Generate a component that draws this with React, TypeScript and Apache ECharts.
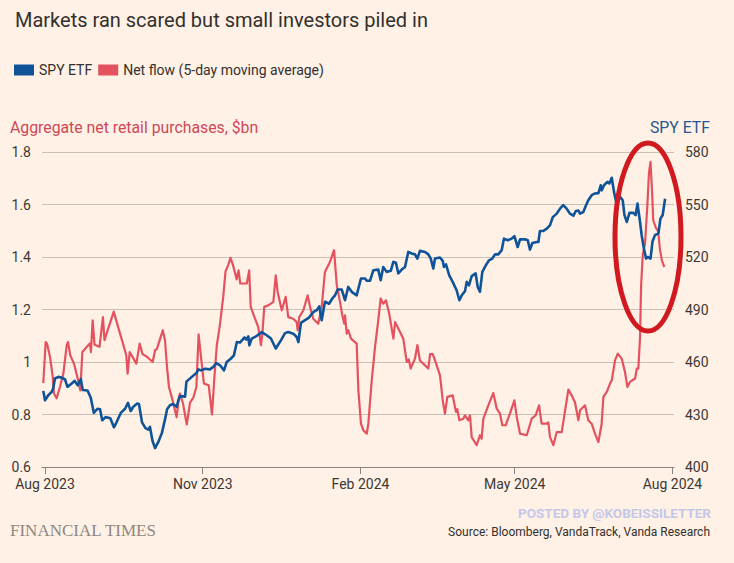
import React, { useEffect, useRef } from "react";
import * as echarts from "echarts";

const DAY = 86400000;
const START = Date.UTC(2023, 7, 1); // day 0 = 1 Aug 2023

const xTickDates = ["2023-08-01", "2023-11-01", "2024-02-01", "2024-05-01", "2024-08-01"];
const xTickLabels = ["Aug 2023", "Nov 2023", "Feb 2024", "May 2024", "Aug 2024"];
const flowTicks = [0.6, 0.8, 1, 1.2, 1.4, 1.6, 1.8];
const spyTicks = [400, 430, 460, 490, 520, 550, 580];

// [days since 1 Aug 2023, aggregate net retail purchases $bn (5-day MA)]
const netFlow: [number, number][] = [
  [-1.0, 0.92], [0.4, 1.076], [1.2, 1.07], [2.9, 1.02], [4.5, 0.945], [5.2, 0.88], [6.8, 0.862], [7.8, 0.885],
  [8.7, 0.905], [10.7, 0.956], [12.7, 1.065], [13.4, 1.076], [14.8, 1.025], [16.9, 0.994], [18.8, 0.945],
  [20.6, 0.892], [21.8, 1.038], [24.3, 1.057], [26.2, 1.071], [26.8, 1.038], [27.8, 1.159], [28.9, 1.066],
  [31.8, 1.058], [33.8, 1.171], [34.7, 1.083], [37.0, 1.13], [40.1, 1.192], [42.8, 1.13], [45.5, 1.07],
  [47.4, 1.026], [48.2, 0.956], [49.4, 1.038], [53.3, 0.994], [55.2, 1.07], [56.9, 1.03], [59.5, 1.02],
  [62.8, 1.0], [64.2, 1.044], [65.3, 1.05], [68.7, 1.121], [70.0, 1.083], [71.2, 0.98], [72.3, 0.905],
  [73.9, 0.867], [76.8, 0.79], [77.9, 0.854], [78.7, 0.88], [80.5, 0.842], [82.7, 0.762], [84.6, 0.845],
  [86.5, 0.864], [88.3, 0.905], [89.6, 1.105], [90.9, 1.025], [92.7, 0.918], [95.5, 0.911], [97.4, 0.8],
  [98.9, 0.95], [100.2, 1.062], [102.1, 1.145], [104.0, 1.25], [105.3, 1.345], [106.9, 1.37], [108.2, 1.397],
  [109.7, 1.368], [111.8, 1.315], [112.9, 1.349], [113.9, 1.299], [117.7, 1.299], [119.1, 1.349], [120.0, 1.21],
  [122.5, 1.165], [124.4, 1.133], [126.0, 1.064], [126.8, 1.108], [127.9, 1.21], [130.3, 1.216], [133.2, 1.229],
  [134.6, 1.33], [135.7, 1.267], [138.1, 1.197], [140.4, 1.248], [141.9, 1.171], [144.8, 1.165], [146.8, 1.152],
  [147.4, 1.121], [148.3, 1.171], [150.7, 1.197], [153.2, 1.254], [154.6, 1.21], [156.5, 1.165], [159.4, 1.146],
  [161.4, 1.21], [163.3, 1.343], [166.2, 1.381], [168.6, 1.426], [170.2, 1.292], [172.1, 1.229], [173.4, 1.178],
  [174.6, 1.146], [175.0, 1.178], [176.0, 1.108], [176.9, 1.121], [178.5, 1.089], [181.8, 1.07], [182.8, 0.892],
  [184.3, 0.765], [185.7, 0.74], [187.7, 0.727], [188.6, 0.765], [190.6, 0.93], [192.5, 1.057], [194.4, 1.159],
  [195.8, 1.242], [197.3, 1.222], [198.9, 1.235], [200.8, 1.184], [203.2, 1.089], [204.2, 1.152], [207.1, 1.114],
  [209.0, 1.089], [211.0, 1.0], [212.2, 1.01], [213.3, 0.975], [215.8, 1.013], [217.2, 1.064], [218.7, 1.006],
  [221.7, 0.987], [223.6, 0.975], [224.6, 1.03], [226.2, 1.03], [227.5, 1.006], [230.4, 0.949], [232.0, 0.854],
  [233.3, 0.803], [234.7, 0.867], [237.8, 0.873], [239.7, 0.81], [240.5, 0.82], [241.7, 0.778], [244.0, 0.784],
  [245.0, 0.797], [246.9, 0.778], [247.9, 0.797], [248.9, 0.714], [251.8, 0.683], [253.7, 0.721], [254.7, 0.708],
  [255.7, 0.784], [258.6, 0.835], [261.5, 0.882], [263.5, 0.822], [265.4, 0.803], [266.8, 0.759], [268.7, 0.759],
  [271.2, 0.803], [273.8, 0.854], [275.2, 0.79], [277.1, 0.727], [281.0, 0.721], [283.9, 0.784], [286.2, 0.797],
  [288.2, 0.835], [289.7, 0.765], [292.7, 0.765], [293.6, 0.77], [294.6, 0.714], [296.5, 0.683], [298.5, 0.733],
  [301.4, 0.733], [305.3, 0.895], [307.2, 0.873], [309.2, 0.845], [311.1, 0.778], [312.1, 0.816], [315.0, 0.835],
  [316.9, 0.778], [318.9, 0.765], [320.8, 0.727], [322.8, 0.695], [324.7, 0.765], [325.7, 0.867], [327.7, 0.886],
  [329.6, 0.918], [330.6, 0.93], [332.5, 1.006], [334.1, 1.032], [336.4, 1.013], [338.3, 0.962], [339.7, 0.905],
  [341.2, 0.924], [344.2, 0.937], [345.2, 0.975], [346.1, 0.975], [347.1, 1.095], [347.7, 1.29], [348.7, 1.41],
  [350.0, 1.45], [351.3, 1.59], [352.3, 1.72], [353.2, 1.762], [354.1, 1.65], [354.8, 1.54], [356.4, 1.51],
  [357.6, 1.5], [358.7, 1.43], [359.9, 1.385], [361.3, 1.362],
];

// [days since 1 Aug 2023, SPY ETF price]
const spy: [number, number][] = [
  [-1.0, 443.5], [0.0, 438.1], [1.9, 441.0], [3.9, 442.9], [4.8, 445.0], [5.8, 450.6], [7.8, 451.5], [9.9, 451.0],
  [11.7, 450.0], [13.1, 445.8], [15.6, 447.7], [17.2, 449.2], [19.1, 446.7], [20.9, 450.3], [22.0, 444.0],
  [24.8, 443.7], [26.7, 439.6], [28.5, 430.9], [30.6, 433.3], [32.1, 433.0], [33.4, 426.7], [35.3, 428.5],
  [38.1, 427.9], [40.2, 422.7], [41.8, 425.7], [44.2, 430.9], [46.7, 433.3], [48.4, 436.6], [50.0, 432.0],
  [51.5, 434.4], [53.8, 436.3], [54.8, 436.0], [56.6, 425.5], [58.6, 422.2], [60.3, 421.3], [61.2, 423.0],
  [62.7, 415.0], [64.2, 410.8], [66.1, 414.3], [68.2, 419.5], [70.3, 428.5], [71.2, 433.0], [72.9, 435.3],
  [74.7, 436.0], [76.8, 434.4], [77.8, 438.1], [78.7, 440.5], [81.7, 440.2], [82.5, 448.8], [85.6, 451.5],
  [88.5, 453.9], [89.4, 455.8], [91.0, 455.2], [93.3, 456.1], [96.2, 455.8], [98.2, 457.2], [99.9, 459.4],
  [102.1, 458.1], [104.4, 455.2], [106.0, 460.0], [108.5, 462.0], [110.2, 463.8], [111.9, 471.4], [113.7, 471.1],
  [116.4, 474.0], [117.5, 472.8], [118.6, 474.7], [119.2, 469.5], [120.6, 473.4], [123.1, 474.7], [125.4, 476.2],
  [126.4, 477.1], [129.3, 475.3], [131.8, 473.4], [134.6, 467.7], [137.7, 472.5], [140.0, 476.5], [141.9, 477.1],
  [144.8, 476.2], [146.8, 474.3], [147.8, 471.4], [149.3, 482.4], [151.7, 483.9], [154.0, 485.4], [156.5, 488.5],
  [158.5, 489.6], [160.0, 491.8], [161.4, 483.9], [163.3, 494.4], [165.7, 493.3], [167.6, 496.3], [169.2, 498.1],
  [170.7, 501.4], [173.1, 501.4], [175.0, 495.3], [176.9, 502.9], [178.9, 500.1], [181.8, 498.1], [184.3, 507.7],
  [186.7, 507.7], [187.7, 506.4], [189.6, 506.5], [191.5, 512.4], [194.4, 512.8], [195.8, 506.7], [197.3, 514.3],
  [199.3, 511.5], [201.7, 512.1], [203.2, 517.2], [204.7, 516.7], [206.1, 510.6], [208.1, 512.8], [210.0, 514.3],
  [211.9, 522.9], [213.9, 522.0], [215.8, 521.5], [217.2, 519.1], [218.7, 523.5], [221.7, 522.9], [223.6, 521.5],
  [225.0, 519.1], [226.5, 513.4], [227.5, 519.1], [230.4, 519.7], [232.0, 517.8], [232.7, 514.3], [233.9, 515.8],
  [235.8, 509.5], [237.8, 505.8], [240.1, 501.0], [241.7, 495.3], [243.1, 498.1], [245.0, 500.5], [246.0, 505.8],
  [247.3, 503.8], [248.9, 509.1], [251.2, 510.6], [252.4, 502.9], [253.7, 500.1], [255.1, 511.5], [257.1, 515.2],
  [259.0, 518.1], [260.9, 519.1], [262.5, 521.5], [264.4, 521.5], [266.4, 523.9], [267.7, 530.5], [269.9, 529.6],
  [272.2, 530.5], [273.8, 531.9], [275.7, 525.7], [277.1, 530.1], [280.0, 530.1], [281.6, 529.6], [282.9, 524.2],
  [284.3, 528.0], [286.8, 528.6], [287.8, 528.6], [288.7, 534.9], [290.7, 534.9], [292.7, 536.2], [294.6, 538.2],
  [296.2, 542.8], [298.5, 544.8], [300.4, 547.6], [302.3, 549.6], [304.3, 547.6], [306.2, 544.8], [308.2, 543.6],
  [309.7, 546.3], [311.1, 546.6], [312.1, 544.8], [314.0, 545.7], [315.6, 549.6], [316.9, 552.4], [318.9, 555.3],
  [320.8, 556.3], [322.8, 556.5], [324.2, 561.0], [324.7, 558.1], [326.1, 561.0], [328.0, 562.9], [329.2, 562.0],
  [330.6, 565.3], [331.9, 557.2], [333.5, 550.0], [335.4, 554.4], [337.0, 552.4], [338.0, 543.9], [339.4, 540.0],
  [340.9, 545.2], [343.2, 545.2], [344.5, 543.9], [345.6, 550.5], [347.1, 540.0], [348.1, 532.0], [349.4, 524.5],
  [350.6, 519.1], [351.6, 520.0], [353.2, 519.1], [354.4, 529.0], [355.8, 532.5], [357.8, 533.5], [359.0, 541.9],
  [360.3, 544.0], [361.7, 553.3],
];

const FONT = "Roboto, 'Noto Sans', sans-serif";
const BG = "#fff1e5";
const BLUE = "#0f5499";
const RED = "#e4525f";

export default function App() {
  const ref = useRef<HTMLDivElement>(null);

  useEffect(() => {
    if (!ref.current) return;
    const chart = echarts.init(ref.current, null, { renderer: "svg" });
    // x axis = days since 1 Aug 2023
    const tickDays = xTickDates.map((s) => Math.round((Date.parse(s + "T00:00:00Z") - START) / DAY));
    const xLabel = (v: number) => {
      for (let i = 0; i < tickDays.length; i++) {
        if (Math.abs(tickDays[i] - v) < 0.5) return xTickLabels[i];
      }
      return "";
    };

    chart.setOption({
      animation: false,
      backgroundColor: BG,
      textStyle: { fontFamily: FONT },
      title: {
        text: "Markets ran scared but small investors piled in",
        left: 10,
        top: 5,
        textStyle: { fontFamily: FONT, fontSize: 20, fontWeight: "normal", color: "#33302e" },
      },
      legend: {
        data: ["SPY ETF", "Net flow (5-day moving average)"],
        left: 9,
        top: 58,
        icon: "rect",
        itemWidth: 20,
        itemHeight: 11,
        itemGap: 6,
        textStyle: { fontFamily: FONT, fontSize: 14, color: "#33302e" },
      },
      grid: { left: 42, right: 60, top: 152, bottom: 96, containLabel: false },
      xAxis: {
        type: "value",
        min: -1.75,
        max: 366.9,
        axisLine: { show: true, lineStyle: { color: "#8a837d", width: 1 } },
        axisTick: { show: true, length: 7, lineStyle: { color: "#8a837d" }, customValues: tickDays },
        axisLabel: {
          customValues: tickDays,
          formatter: (v: number) => xLabel(v),
          color: "#3d3835",
          fontSize: 14,
          fontFamily: FONT,
          margin: 10,
        },
        splitLine: { show: false },
      },
      yAxis: [
        {
          type: "value",
          min: 0.6,
          max: 1.8,
          interval: 0.2,
          position: "left",
          axisLine: { show: false },
          axisTick: { show: false },
          axisLabel: {
            customValues: flowTicks,
            formatter: (v: number) => String(Math.round(v * 10) / 10),
            color: "#3d3835",
            fontSize: 14,
            fontFamily: FONT,
            margin: 11,
          },
          splitLine: { show: true, lineStyle: { color: "#cbc0b6", width: 1 } },
        },
        {
          type: "value",
          min: 400,
          max: 580,
          position: "right",
          axisLine: { show: false },
          axisTick: { show: false },
          axisLabel: {
            customValues: spyTicks,
            color: "#3d3835",
            fontSize: 14,
            fontFamily: FONT,
            margin: 11,
          },
          splitLine: { show: false },
        },
      ],
      series: [
        {
          name: "Net flow (5-day moving average)",
          type: "line",
          yAxisIndex: 0,
          showSymbol: false,
          color: RED,
          lineStyle: { color: RED, width: 2.2, join: "round" },
          data: netFlow,
          z: 2,
        },
        {
          name: "SPY ETF",
          type: "line",
          yAxisIndex: 1,
          showSymbol: false,
          color: BLUE,
          lineStyle: { color: BLUE, width: 2.6, join: "round" },
          data: spy,
          z: 3,
        },
      ],
      graphic: [
        {
          type: "text",
          left: 10,
          top: 119,
          style: {
            text: "Aggregate net retail purchases, $bn",
            fill: "#cf4858",
            font: `15.8px ${FONT}`,
          },
        },
        {
          type: "text",
          right: 24,
          top: 119,
          style: {
            text: "SPY ETF",
            fill: "#1f5894",
            font: `15.8px ${FONT}`,
          },
        },
        {
          type: "ellipse",
          shape: { cx: 648, cy: 237, rx: 33, ry: 94 },
          style: { fill: "none", stroke: "#d01a20", lineWidth: 5 },
          z: 100,
        },
        {
          type: "text",
          right: 23,
          top: 506,
          style: {
            text: "POSTED BY @KOBEISSILETTER",
            fill: "#c3c8ea",
            font: `bold 13.5px ${FONT}`,
          },
        },
        {
          type: "text",
          left: 10,
          top: 522,
          style: {
            text: "FINANCIAL TIMES",
            fill: "#8f8781",
            font: "17px 'Liberation Serif', 'DejaVu Serif', serif",
          },
        },
        {
          type: "text",
          right: 24,
          top: 526,
          style: {
            text: "Source: Bloomberg, VandaTrack, Vanda Research",
            fill: "#33302e",
            font: `12px ${FONT}`,
          },
        },
      ],
    });

    return () => chart.dispose();
  }, []);

  return (
    <div
      ref={ref}
      style={{ position: "fixed", left: 0, top: 0, width: 734, height: 563, background: BG }}
    />
  );
}
